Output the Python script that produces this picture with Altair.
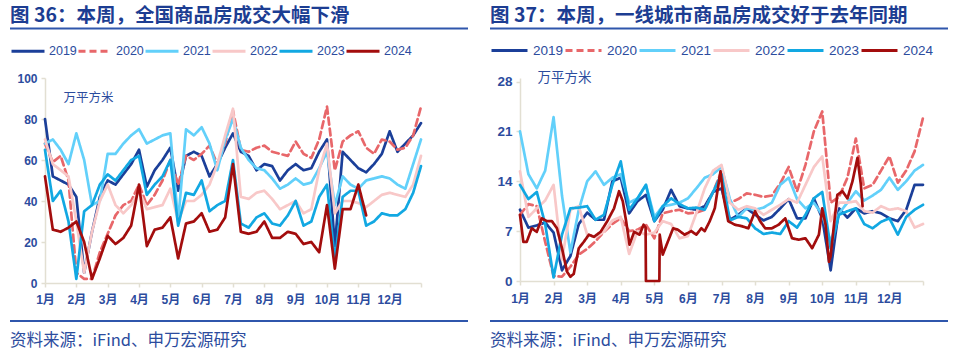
import altair as alt
import pandas as pd

YEARS = ["2019", "2020", "2021", "2022", "2023", "2024"]
COLORS = ["#1b3f99", "#e8676a", "#62d0fa", "#f8c8c8", "#12a8e2", "#a30d0d"]
DASHES = [[1, 0], [7, 4], [1, 0], [1, 0], [1, 0], [1, 0]]
MONTH_LABELS = ["1月", "2月", "3月", "4月", "5月", "6月", "7月", "8月", "9月", "10月", "11月", "12月"]

TITLE_L = "图 36：本周，全国商品房成交大幅下滑"
TITLE_R = "图 37：本周，一线城市商品房成交好于去年同期"
SOURCE = "资料来源：iFind、申万宏源研究"
UNIT = "万平方米"

# x position in months since Jan 1 (quarter-month grid)
GRID = [i / 4 for i in range(49)]

# ---------- left panel: national (万平方米) ----------
L2019 = [80, 52, 50, 48, 42, 5, 25, 42, 50, 48, 53, 58, 65, 47, 55, 60, 66, 45, 62, 64, 62, 52, 58, 66, 73,
         64, 62, 55, 58, 57, 50, 55, 58, 55, 56, 64, 70, 18, 64, 60, 56, 54, 58, 63, 74, 64, 68, 72, 78]
L2020 = [68, 59, 62, 50, 5, 2, 2, 15, 24, 33, 38, 40, 48, 38, 43, 50, 60, 48, 62, 60, 63, 67, 58, 68, 84,
         65, 64, 66, 67, 64, 63, 62, 69, 63, 61, 70, 86, 55, 69, 72, 74, 66, 63, 70, 69, 65, 66, 72, 86]
L2021 = [68, 70, 65, 58, 73, 60, 38, 40, 63, 63, 68, 72, 75, 68, 70, 72, 73, 30, 75, 72, 76, 68, 55, 70, 80,
         66, 60, 56, 55, 51, 46, 48, 51, 48, 49, 56, 64, 38, 52, 48, 46, 50, 51, 52, 51, 48, 46, 58, 70]
L2022 = [70, 58, 55, 52, 30, 5, 25, 40, 48, 38, 34, 38, 45, 36, 37, 38, 46, 30, 40, 40, 43, 48, 58, 72, 85,
         42, 41, 44, 45, 41, 36, 38, 40, 34, 36, 55, 68, 34, 40, 40, 39, 37, 40, 43, 44, 43, 42, 48, 62]
L2023 = [65, 40, 45, 30, 2, 35, 38, 48, 53, 50, 55, 60, 62, 43, 48, 52, 60, 28, 44, 43, 50, 35, 38, 40, 60,
         29, 27, 32, 34, 29, 28, 33, 40, 28, 30, 42, 48, 11, 42, 45, 45, 28, 30, 34, 33, 33, 36, 44, 57]
L2024 = [52, 26, 25, 27, 30, 20, 2, 12, 23, 19, 22, 28, 48, 18, 26, 27, 32, 12, 29, 30, 34, 25, 26, 32, 58,
         25, 24, 25, 30, 22, 22, 25, 24, 19, 20, 15, 38, 7, 36, 36, 48, 33]

# ---------- right panel: tier-1 cities (万平方米) ----------
R2019 = [10, 7.5, 7.8, 8.2, 6.8, 1.5, 3.5, 8, 9.6, 8.6, 8.6, 14, 14.5, 9.5, 11.2, 12.1, 8.4, 10, 12.8, 10.5,
         10.2, 10, 10.5, 12.5, 13, 8.6, 9.3, 10.2, 9.3, 8.5, 9, 10.2, 11.5, 8.8, 8.8, 11.6, 8.8, 1.5, 10.2,
         8.9, 10.2, 9.5, 9.8, 9.5, 8.8, 8.4, 10, 13.5, 13.5]
R2020 = [9.3, 10.8, 10.5, 5.5, 0.7, 0.6, 2, 3.7, 4.5, 5.6, 6.9, 8, 8.8, 7, 7.2, 7.9, 6, 9.5, 9.8, 10, 9.5,
         9.6, 10, 12.5, 15.4, 11, 11.5, 12.3, 12.1, 11.8, 12, 13.7, 16, 12.6, 16.3, 21, 23.8, 11, 11.8, 14.5,
         20, 13, 13.5, 15.5, 17.5, 13.8, 15.5, 18.2, 22.9]
R2021 = [21, 15, 13, 15.5, 23, 12, 4, 10, 14, 15.4, 13.5, 14.5, 15, 11, 11.6, 13.5, 9, 10.5, 10.7, 11, 11.6,
         13, 14.5, 15, 16, 11.5, 9, 10.2, 10, 10.3, 11, 13.5, 14.5, 11.5, 10.2, 11, 9.3, 5.5, 9.5, 11, 12.6,
         11.3, 12, 12.8, 14.5, 12.8, 14, 15.5, 16.3]
R2022 = [15.4, 9, 10.2, 11.3, 13.5, 3, 10, 10.5, 6.5, 6.2, 6.9, 8.5, 9, 3.8, 7, 6.5, 6.8, 8.4, 8, 6, 6.3,
         9.5, 13, 15.5, 16.3, 11, 10, 10.5, 10.2, 9.3, 10, 10.7, 11.5, 11, 13.5, 16, 17.5, 8.4, 11, 11, 11.2,
         9.8, 9.6, 10.5, 10, 10.2, 9.8, 7.5, 8]
R2023 = [13.5, 11.5, 12.5, 8, 0.5, 6.5, 10.2, 10.3, 10.5, 8.6, 9.3, 13.5, 16.8, 10, 11.6, 13.5, 8.4, 10.5,
         11.6, 10.8, 10.2, 10.3, 10, 12.5, 15, 8.5, 9, 8.8, 7.4, 6.6, 6.8, 6.6, 8.4, 7.5, 9.3, 11.6, 12.5,
         4.6, 9.3, 9.8, 10.2, 8, 7.4, 8.3, 8.8, 6.5, 9, 10, 10.7]
R2024_M = [0, 0.1, 0.2, 0.35, 0.5, 0.65, 0.8, 0.95, 1.1, 1.25, 1.4, 1.5, 1.6, 1.75, 1.9, 2.05, 2.2, 2.4, 2.6,
           2.8, 2.95, 3.06, 3.16, 3.26, 3.4, 3.56, 3.68, 3.74, 3.75, 4.15, 4.16, 4.25, 4.4, 4.56, 4.7, 4.9,
           5.1, 5.25, 5.4, 5.5, 5.65, 5.8, 5.97, 6.05, 6.2, 6.4, 6.6, 6.8, 7.0, 7.15, 7.3, 7.5, 7.7, 7.9,
           8.1, 8.3, 8.5, 8.7, 8.9, 9.0, 9.1, 9.2, 9.25, 9.35, 9.45, 9.6, 9.75, 9.9, 10.05, 10.15, 10.2]
R2024 = [9.3, 5.5, 5.5, 7.4, 6.9, 8.8, 8.4, 8.4, 7.4, 4.6, 1.3, 0.6, 1.0, 4.6, 5.5, 6.5, 6.2, 6.9, 8.4, 10.2,
         12.6, 11.2, 8.4, 5.1, 6.9, 6.5, 7.9, 7.5, 0, 0, 6.5, 3.7, 5.5, 7.4, 7.2, 6.5, 7.0, 6.5, 7.4, 7.0,
         8.4, 10.2, 15.4, 12.1, 8.4, 7.9, 7.7, 7.4, 9.8, 8.4, 7.4, 7.4, 7.9, 8.8, 6.0, 5.8, 6.0, 4.6, 6.5,
         10.2, 7.9, 2.7, 3.5, 7.9, 12.1, 12.6, 11.6, 14, 17.3, 13.5, 10.5]

TITLE_C = "#1c3d92"
LBL_C = "#2c4c9e"
AX_C = "#e2dfd2"
RULE_C = "#2f56ac"
CJK = "Noto Sans CJK SC"
LAT = "Liberation Sans, Noto Sans CJK SC"


def long_df(series):
    rows = []
    for year, xs, vals in series:
        for x, v in zip(xs, vals):
            rows.append({"m": x, "v": v, "year": year})
    return pd.DataFrame(rows)


df_left = long_df([
    ("2019", GRID, L2019), ("2020", GRID, L2020), ("2021", GRID, L2021),
    ("2022", GRID, L2022), ("2023", GRID, L2023), ("2024", GRID[:len(L2024)], L2024),
])
df_right = long_df([
    ("2019", GRID, R2019), ("2020", GRID, R2020), ("2021", GRID, R2021),
    ("2022", GRID, R2022), ("2023", GRID, R2023), ("2024", R2024_M, R2024),
])

label_expr = "[" + ",".join("'%s'" % s for s in MONTH_LABELS) + "][datum.value] || ''"


def panel(df, ydom, yticks, ylab_size, unit_x, unit_y, unit_size,
          title, ox, ex, legend_x, legend_y, sym, lab_size, lab_off, col_pad, xlab_pad):
    legend = alt.Legend(orient="none", legendX=legend_x, legendY=legend_y, direction="horizontal",
                        title=None, symbolType="stroke", symbolStrokeWidth=3, symbolSize=sym * sym,
                        labelFontSize=lab_size, labelColor=LBL_C, labelFont="Liberation Sans",
                        labelOffset=lab_off, columnPadding=col_pad, padding=0)
    lines = alt.Chart(df).mark_line(strokeWidth=2.7, strokeJoin="round", strokeCap="round").encode(
        x=alt.X("m:Q", scale=alt.Scale(domain=[0, 12], nice=False),
                axis=alt.Axis(values=list(range(13)), labelExpr=label_expr, title=None, grid=False,
                              domainColor=AX_C, domainWidth=1.5, tickColor=AX_C, tickWidth=1.5,
                              tickSize=4, labelColor=LBL_C, labelFontSize=12, labelFont=LAT,
                              labelFontWeight="bold", labelPadding=xlab_pad, labelOverlap=False,
                              labelFlush=False)),
        y=alt.Y("v:Q", scale=alt.Scale(domain=ydom, nice=False, zero=True),
                axis=alt.Axis(values=yticks, title=UNIT, titleAngle=0, titleAlign="left",
                              titleBaseline="middle", titleX=unit_x, titleY=unit_y,
                              titleFont=CJK, titleFontSize=unit_size, titleFontWeight="normal",
                              titleColor=LBL_C, grid=False, domainColor=AX_C, domainWidth=1.5,
                              tickColor=AX_C, tickWidth=1.5, tickSize=4, labelColor=LBL_C,
                              labelFontSize=ylab_size, labelFont=LAT, labelFontWeight="bold",
                              labelPadding=4)),
        color=alt.Color("year:N", scale=alt.Scale(domain=YEARS, range=COLORS), legend=legend),
        strokeDash=alt.StrokeDash("year:N", scale=alt.Scale(domain=YEARS, range=DASHES), legend=legend),
        detail="year:N",
    )
    one = pd.DataFrame({"t": [title]})
    src = pd.DataFrame({"t": [SOURCE]})
    ttl = alt.Chart(one).mark_text(align="left", baseline="middle", fontSize=19.5, fontWeight="bold",
                                   font=CJK, color=TITLE_C).encode(
        x=alt.value(ox), y=alt.value(-62), text="t:N")
    underline = alt.Chart(one).mark_rule(color=RULE_C, strokeWidth=2).encode(
        x=alt.value(ox), x2=alt.value(ex), y=alt.value(-49.5))
    srule = alt.Chart(one).mark_rule(color=RULE_C, strokeWidth=2).encode(
        x=alt.value(ox), x2=alt.value(ex), y=alt.value(243))
    stext = alt.Chart(src).mark_text(align="left", baseline="middle", fontSize=16.5, font=CJK,
                                     color=LBL_C).encode(
        x=alt.value(ox), y=alt.value(263), text="t:N")
    return [lines, ttl, underline, srule, stext]


left_layers = panel(df_left, [0, 100], [0, 20, 40, 60, 80, 100], 12, 18, 19, 12.5,
                    TITLE_L, -35, 423, -35, -45, 33, 12.5, 3, -9, 7)
pin = alt.Chart(pd.DataFrame({"t": [""]})).mark_rect(opacity=0).encode(
    x=alt.value(-45), x2=alt.value(915), y=alt.value(-78), y2=alt.value(278))
left = alt.layer(*left_layers, pin).properties(width=376, height=205)

right_layers = panel(df_right, [0, 28.5], [0, 7, 14, 21, 28], 13.5, 17, -1, 13.5,
                     TITLE_R, -30, 428, -30, -47, 36, 13.5, 4, -8, 8)
right = alt.layer(*right_layers).properties(width=403, height=203)

chart = alt.hconcat(left, right, spacing=99, bounds="flush").resolve_scale(
    color="independent", strokeDash="independent", x="independent", y="independent"
).properties(padding=0).configure_view(stroke=None)

chart.save("out.html", embed_options={"renderer": "svg", "actions": False})
